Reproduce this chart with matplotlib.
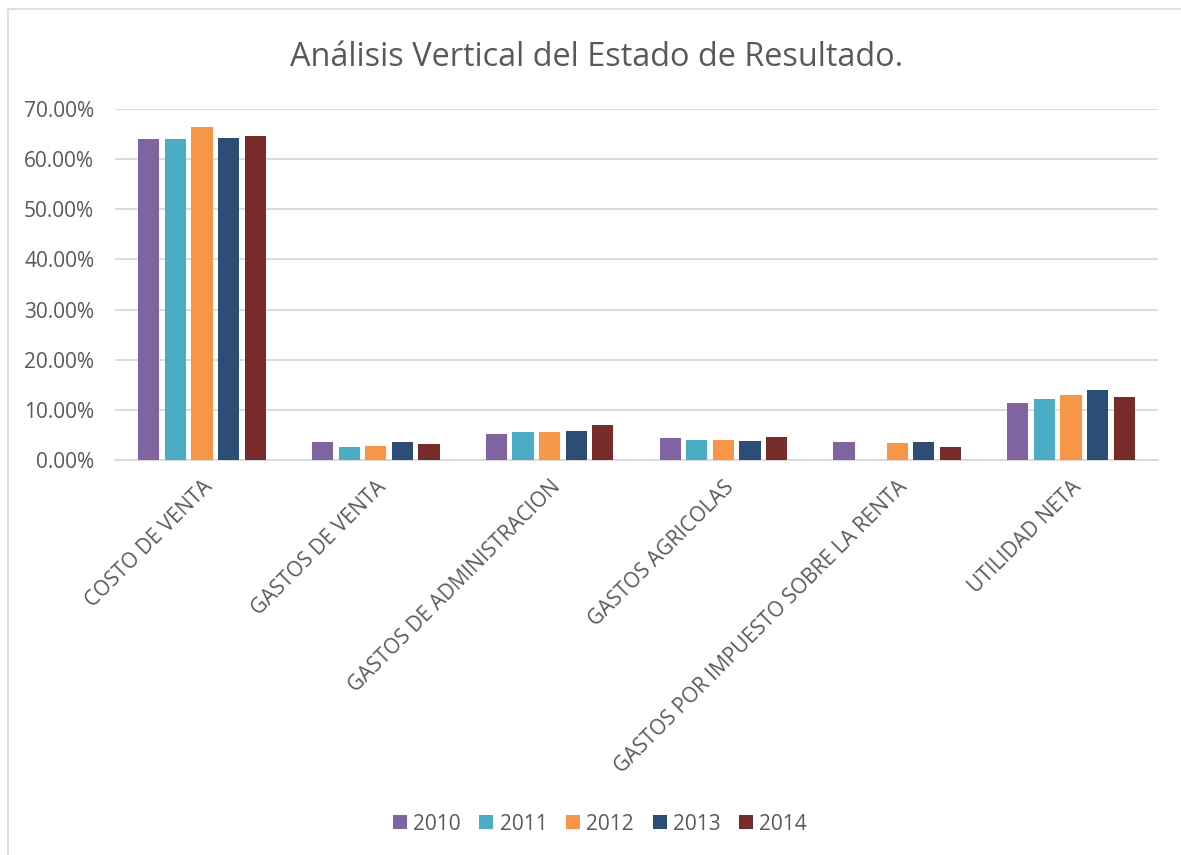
import numpy as np
import matplotlib
matplotlib.use("Agg")
import matplotlib.pyplot as plt
from matplotlib.patches import Rectangle
from matplotlib.ticker import FuncFormatter

categories = ["COSTO DE VENTA", "GASTOS DE VENTA", "GASTOS DE ADMINISTRACION",
              "GASTOS AGRICOLAS", "GASTOS POR IMPUESTO SOBRE LA RENTA", "UTILIDAD NETA"]
years = ["2010", "2011", "2012", "2013", "2014"]
v2010 = [64.0, 3.5, 5.1, 4.3, 3.6, 11.3]
v2011 = [64.0, 2.6, 5.6, 3.9, 0.0, 12.1]
v2012 = [66.5, 2.7, 5.5, 4.0, 3.3, 13.0]
v2013 = [64.3, 3.5, 5.7, 3.7, 3.5, 13.9]
v2014 = [64.6, 3.2, 7.0, 4.5, 2.5, 12.5]
colors = ["#8064A2", "#4BACC6", "#F79646", "#2C4D75", "#772C2A"]

plt.rcParams["font.family"] = ["Open Sans", "DejaVu Sans"]
text_color = "#595959"

def plot():
    series = [v2010, v2011, v2012, v2013, v2014]
    fig = plt.figure(figsize=(11.81, 8.55), dpi=100)
    ax = fig.add_axes([115 / 1181, 1 - 460 / 855, (1158 - 115) / 1181, (460 - 109) / 855])

    x = np.arange(len(categories))
    step = 0.153
    width = 0.122
    for i, (vals, c, y) in enumerate(zip(series, colors, years)):
        ax.bar(x + (i - 2) * step, np.array(vals) / 100, width=width, color=c,
               label=y, zorder=3)

    ax.set_xlim(-0.5, len(categories) - 0.5)
    ax.set_ylim(0, 0.70)
    ax.set_yticks(np.arange(0, 0.71, 0.10))
    ax.yaxis.set_major_formatter(FuncFormatter(lambda v, p: "{:.2f}%".format(v * 100)))
    ax.grid(axis="y", color="#d9d9d9", linewidth=1.3, zorder=0)
    for s in ["top", "right", "left"]:
        ax.spines[s].set_visible(False)
    ax.spines["bottom"].set_color("#d9d9d9")
    ax.spines["bottom"].set_linewidth(1.3)
    ax.tick_params(axis="y", length=0, labelsize=15, colors=text_color, pad=15)
    ax.tick_params(axis="x", length=0, labelsize=15, colors=text_color, pad=12)
    ax.set_xticks(x, labels=categories)
    plt.setp(ax.get_xticklabels(), rotation=45, ha="right", va="top",
             rotation_mode="anchor")

    fig.text(0.505, 1 - 58 / 855, "Análisis Vertical del Estado de Resultado.",
             ha="center", va="center", fontsize=23.4, color=text_color)

    ax.legend(loc="center", bbox_to_anchor=(600 / 1181, 1 - 824 / 855),
              bbox_transform=fig.transFigure, ncol=5, frameon=False,
              fontsize=15, labelcolor=text_color, handlelength=0.67,
              handleheight=0.67, columnspacing=0.9, handletextpad=0.3)

    fig.patches.append(Rectangle((8 / 1181, -0.01), 1.1, 1 - 9 / 855 + 0.01,
                                 transform=fig.transFigure, fill=False,
                                 edgecolor="#d9d9d9", linewidth=1.2))

    plt.savefig("out.png", dpi=100)

plot()
